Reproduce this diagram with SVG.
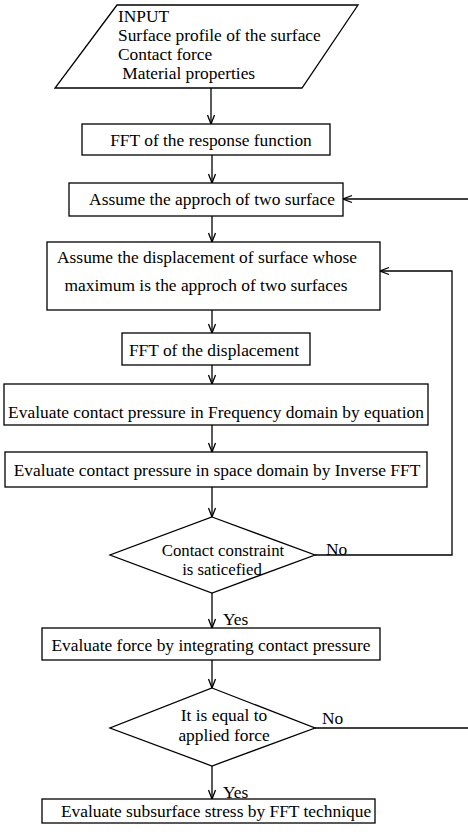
<svg xmlns="http://www.w3.org/2000/svg" width="468" height="836" viewBox="0 0 468 836">
<style>
.s{fill:#fff;stroke:#000;stroke-width:1.3}
.t{font-family:"Liberation Serif","Times New Roman",serif;font-size:17.4px;fill:#000}
.d{font-size:16.8px}
.m{text-anchor:middle}
.c{fill:none;stroke:#000;stroke-width:1.3}
</style>
<defs>
<marker id="a" viewBox="0 0 10 10" refX="10" refY="5" markerWidth="10" markerHeight="10" markerUnits="userSpaceOnUse" orient="auto">
<path d="M1,1.5 L10,5 L1,8.5" fill="none" stroke="#000" stroke-width="1.3"/>
</marker>
</defs>
<rect width="468" height="836" fill="#fff"/>
<g id="connectors">
<path class="c" d="M211,88 V124" marker-end="url(#a)"/>
<path class="c" d="M212,155 V183" marker-end="url(#a)"/>
<path class="c" d="M212,216 V242" marker-end="url(#a)"/>
<path class="c" d="M212,310 V333" marker-end="url(#a)"/>
<path class="c" d="M212,365 V384" marker-end="url(#a)"/>
<path class="c" d="M212,425 V452" marker-end="url(#a)"/>
<path class="c" d="M212,487 V517" marker-end="url(#a)"/>
<path class="c" d="M212,593 V628" marker-end="url(#a)"/>
<path class="c" d="M212,660 V688" marker-end="url(#a)"/>
<path class="c" d="M212,766 V799" marker-end="url(#a)"/>
<path class="c" d="M315,555 H452 V271 H380" marker-end="url(#a)"/>
<path class="c" d="M315,728 H468"/>
<path class="c" d="M468,199 H343" marker-end="url(#a)"/>
<text class="t" x="223" y="625">Yes</text>
<text class="t" x="223" y="798">Yes</text>
<text class="t" x="326" y="555">No</text>
<text class="t" x="322" y="724">No</text>
</g>
<g id="input">
<polygon class="s" points="117,5 358,5 302,88 55,88"/>
<text class="t" x="118" y="22">INPUT</text>
<text class="t" x="118" y="41">Surface profile of  the surface</text>
<text class="t" x="118" y="60">Contact  force</text>
<text class="t" x="118" y="79" xml:space="preserve"> Material properties</text>
</g>
<g id="fft-response">
<rect class="s" x="82" y="124" width="248" height="31"/>
<text class="t m" x="211" y="146">FFT of the response function</text>
</g>
<g id="assume-approach">
<rect class="s" x="69" y="183" width="274" height="33"/>
<text class="t m" x="212" y="205">Assume the approch of two surface</text>
</g>
<g id="assume-displacement">
<rect class="s" x="47" y="242" width="333" height="68"/>
<text class="t m" x="207" y="263">Assume the displacement of surface whose</text>
<text class="t m" x="206" y="291">maximum is the approch of two surfaces</text>
</g>
<g id="fft-displacement">
<rect class="s" x="122" y="333" width="188" height="32"/>
<text class="t m" x="214" y="356">FFT of the displacement</text>
</g>
<g id="eval-freq">
<rect class="s" x="4" y="384" width="424" height="41"/>
<text class="t m" x="216" y="418">Evaluate contact pressure in Frequency domain by equation</text>
</g>
<g id="eval-space">
<rect class="s" x="5" y="452" width="422" height="35"/>
<text class="t m" x="217" y="476">Evaluate contact pressure in space domain by Inverse FFT</text>
</g>
<g id="constraint">
<polygon class="s" points="212,517 315,555 212,593 110,555"/>
<text class="t d m" x="223" y="556">Contact constraint</text>
<text class="t d m" x="222" y="575">is saticefied</text>
</g>
<g id="eval-force">
<rect class="s" x="42" y="628" width="338" height="32"/>
<text class="t m" x="211" y="651">Evaluate force by integrating contact pressure</text>
</g>
<g id="equal-force">
<polygon class="s" points="212,688 315,728 212,766 110,728"/>
<text class="t m" x="224" y="721">It is equal to</text>
<text class="t m" x="224" y="741">applied force</text>
</g>
<g id="eval-stress">
<rect class="s" x="42" y="799" width="333" height="24"/>
<text class="t m" x="216" y="817">Evaluate subsurface stress by FFT technique</text>
</g>
</svg>
